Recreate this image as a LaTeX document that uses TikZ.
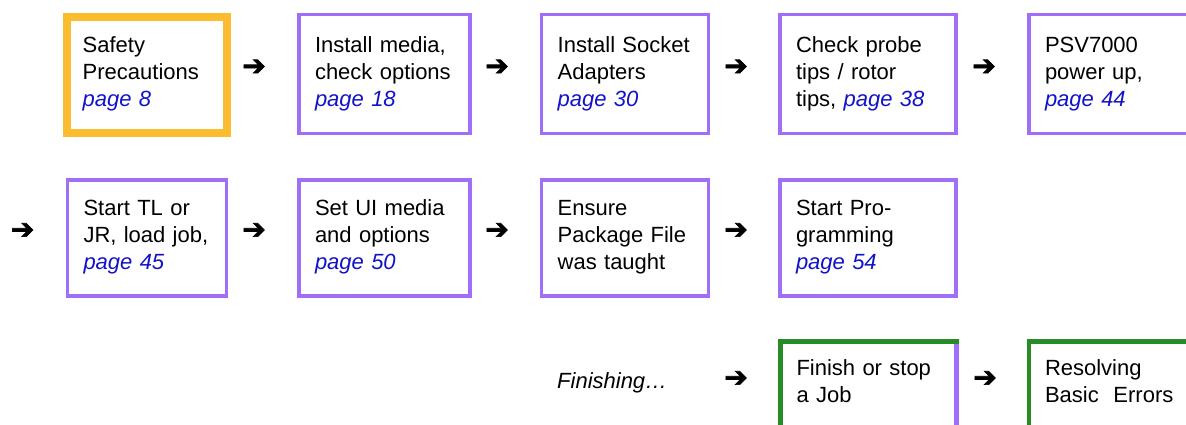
\documentclass[tikz,border=0pt]{standalone}
\usepackage{fontspec}
\setmainfont{Liberation Sans}
\newfontfamily\arrowfont[FakeBold=2.5]{DejaVu Sans}
\definecolor{boxpurple}{RGB}{160,110,248}
\definecolor{boxorange}{RGB}{251,188,48}
\definecolor{boxgreen}{RGB}{38,140,38}
\definecolor{pageblue}{RGB}{18,18,200}
\newcommand{\pglink}[1]{\textcolor{pageblue}{\itshape page #1}}

\begin{document}
\begin{tikzpicture}[x=1pt,y=-1pt,
    stepbox/.style={draw=boxpurple, line width=3.5pt, anchor=north west,
      outer sep=0pt, align=left, inner xsep=16pt, inner ysep=0pt,
      text height=37.5pt, text depth=81.5pt,
      font=\fontsize{22}{27}\selectfont},
    endbox/.style={stepbox, draw=boxgreen, line width=4.5pt,
      text height=33.5pt, text depth=85pt},
    arr/.style={font=\arrowfont\fontsize{28}{28}\selectfont, inner sep=0pt}]
  \clip (0,0) rectangle (1186,425);

  \node[stepbox, draw=boxorange, line width=8pt, text height=36pt,
    text depth=80pt, text width=128pt] (s1) at (66.7,16.7)
    {Safety\\Precautions\\\pglink{8}};
  \node[stepbox, text width=139pt] (s2) at (299,14.7)
    {Install media,\\check options\\\pglink{18}};
  \node[stepbox, text width=135pt] (s3) at (541.7,14.7)
    {Install Socket\\Adapters\\\pglink{30}};
  \node[stepbox, text width=144pt] (s4) at (780,14.7)
    {Check probe\\tips / rotor\\tips, \pglink{38}};
  \node[stepbox, text width=144pt] (s5) at (1029,14.7)
    {PSV7000\\power up,\\\pglink{44}};

  \node[stepbox, text height=35.5pt, text depth=80.5pt, text width=127pt]
    (t1) at (67.5,180) {Start TL or\\JR, load job,\\\pglink{45}};
  \node[stepbox, text height=35.5pt, text depth=80.5pt, text width=139pt]
    (t2) at (299,180) {Set UI media\\and options\\\pglink{50}};
  \node[stepbox, text height=35.5pt, text depth=80.5pt, text width=135pt]
    (t3) at (541.7,180) {Ensure\\Package File\\was taught};
  \node[stepbox, text height=35.5pt, text depth=80.5pt, text width=144pt]
    (t4) at (780,180) {Start Pro-\\gramming\\\pglink{54}};

  \node[anchor=base west, inner sep=0pt, font=\fontsize{22}{27}\selectfont\itshape]
    (fin) at (557,388) {Finishing\dots};
  \node[endbox, text width=144pt] (f1) at (780.5,341.7)
    {Finish or stop\\a Job};
  \draw[boxpurple, line width=4.6pt] ([yshift=-2.25pt]f1.north east) -- (f1.south east);
  \node[endbox, text width=144pt] (f2) at (1029,341.7)
    {Resolving\\Basic~ Errors};

  \node[arr] (a1) at (254,67.5) {➔};
  \node[arr] (a2) at (497,67.5) {➔};
  \node[arr] (a3) at (736,67.5) {➔};
  \node[arr] (a4) at (984,67.5) {➔};
  \node[arr] (a5) at (22.5,231) {➔};
  \node[arr] (a6) at (254,231) {➔};
  \node[arr] (a7) at (497,231) {➔};
  \node[arr] (a8) at (736,231) {➔};
  \node[arr] (a9) at (736,379) {➔};
  \node[arr] (a10) at (985,379) {➔};
\end{tikzpicture}
\end{document}
